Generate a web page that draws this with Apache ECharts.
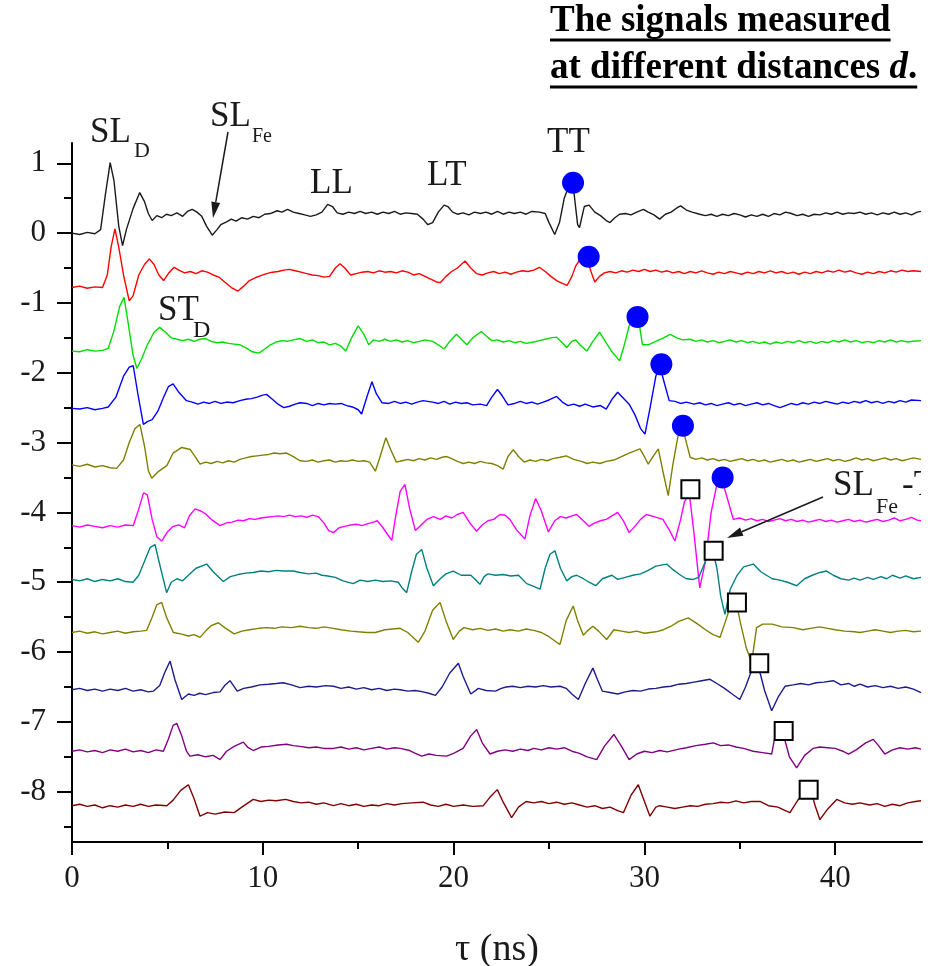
<!DOCTYPE html>
<html><head><meta charset="utf-8">
<script src="https://cdn.jsdelivr.net/npm/echarts@6.0.0/dist/echarts.min.js"></script>
<style>html,body{margin:0;padding:0;background:#fff}#c{width:934px;height:966px}</style>
</head><body><div id="c"></div>
<script>
// ---- data ----
const xTickValues = [0, 10, 20, 30, 40];
const yTickValues = [-8, -7, -6, -5, -4, -3, -2, -1, 0, 1];

const sig0 = [[0,0.00],[0.4,-0.02],[0.8,0.01],[1.2,-0.01],[1.5,0.05],[1.75,0.55],[2.0,1.01],[2.2,0.75],[2.45,0.1],[2.65,-0.18],[2.85,0.05],[3.2,0.35],[3.55,0.58],[3.8,0.45],[4.0,0.28],[4.2,0.18],[4.45,0.25],[4.7,0.22],[4.95,0.27],[5.2,0.25],[5.5,0.29],[5.8,0.24],[6.05,0.31],[6.3,0.34],[6.55,0.3],[6.8,0.24],[7.05,0.1],[7.35,-0.03],[7.6,0.05],[7.8,0.12],[8.1,0.16],[8.35,0.2],[8.6,0.17],[8.9,0.22],[9.2,0.2],[9.5,0.24],[9.8,0.22],[10.1,0.27],[10.4,0.28],[10.75,0.32],[11.0,0.3],[11.3,0.34],[11.6,0.3],[11.9,0.28],[12.2,0.26],[12.5,0.24],[12.8,0.26],[13.1,0.3],[13.4,0.41],[13.65,0.38],[13.9,0.29],[14.2,0.27],[14.5,0.3],[14.8,0.28],[15.1,0.31],[15.4,0.28],[15.7,0.3],[16.0,0.27],[16.3,0.3],[16.6,0.28],[16.9,0.31],[17.2,0.27],[17.5,0.29],[17.8,0.28],[18.1,0.27],[18.4,0.2],[18.65,0.12],[18.9,0.15],[19.2,0.3],[19.5,0.4],[19.7,0.38],[19.95,0.3],[20.2,0.27],[20.5,0.29],[20.8,0.26],[21.1,0.3],[21.4,0.28],[21.7,0.3],[22.0,0.27],[22.3,0.31],[22.6,0.27],[22.9,0.3],[23.2,0.28],[23.5,0.3],[23.8,0.27],[24.1,0.31],[24.5,0.3],[24.8,0.28],[25.0,0.15],[25.3,-0.02],[25.55,0.15],[25.8,0.5],[26.1,0.72],[26.3,0.6],[26.5,0.12],[26.6,0.08],[26.85,0.38],[27.1,0.4],[27.4,0.3],[27.7,0.25],[28.0,0.18],[28.2,0.15],[28.45,0.22],[28.7,0.27],[29.0,0.28],[29.3,0.26],[29.6,0.3],[29.95,0.34],[30.2,0.3],[30.5,0.26],[30.8,0.2],[31.1,0.27],[31.4,0.3],[31.7,0.36],[31.9,0.39],[32.2,0.33],[32.5,0.3],[32.9,0.27],[33.2,0.25],[33.5,0.27],[33.8,0.24],[34.1,0.27],[34.4,0.25],[34.7,0.28],[35.0,0.26],[35.3,0.23],[35.6,0.26],[35.9,0.24],[36.2,0.27],[36.5,0.24],[36.8,0.28],[37.1,0.26],[37.4,0.3],[37.7,0.28],[38.0,0.25],[38.3,0.27],[38.6,0.24],[38.9,0.27],[39.2,0.26],[39.5,0.29],[39.8,0.27],[40.1,0.3],[40.4,0.27],[40.7,0.29],[41.0,0.28],[41.3,0.3],[41.6,0.27],[41.9,0.29],[42.2,0.26],[42.5,0.29],[42.8,0.27],[43.1,0.3],[43.4,0.27],[43.7,0.29],[44.0,0.26],[44.3,0.3],[44.5,0.31]];

const sig1 = [[0,-0.78],[0.4,-0.76],[0.8,-0.79],[1.2,-0.77],[1.6,-0.78],[1.85,-0.6],[2.05,-0.2],[2.25,0.06],[2.45,-0.2],[2.7,-0.6],[3.0,-0.97],[3.2,-0.9],[3.5,-0.6],[3.8,-0.45],[4.05,-0.37],[4.3,-0.45],[4.55,-0.6],[4.8,-0.68],[5.05,-0.58],[5.35,-0.49],[5.6,-0.53],[5.9,-0.57],[6.2,-0.55],[6.5,-0.58],[6.8,-0.54],[7.1,-0.56],[7.4,-0.6],[7.7,-0.63],[8.0,-0.7],[8.35,-0.78],[8.7,-0.83],[9.0,-0.76],[9.3,-0.68],[9.6,-0.64],[9.9,-0.61],[10.2,-0.58],[10.5,-0.56],[10.8,-0.55],[11.1,-0.53],[11.4,-0.52],[11.7,-0.54],[12.0,-0.56],[12.3,-0.58],[12.6,-0.6],[12.9,-0.61],[13.2,-0.63],[13.5,-0.62],[13.8,-0.5],[14.05,-0.44],[14.3,-0.5],[14.6,-0.6],[14.9,-0.58],[15.2,-0.56],[15.5,-0.55],[15.8,-0.57],[16.1,-0.54],[16.4,-0.56],[16.7,-0.55],[17.0,-0.57],[17.3,-0.54],[17.6,-0.56],[17.9,-0.6],[18.2,-0.58],[18.5,-0.62],[18.8,-0.66],[19.1,-0.7],[19.3,-0.71],[19.6,-0.62],[19.9,-0.55],[20.2,-0.5],[20.6,-0.4],[20.9,-0.5],[21.2,-0.58],[21.5,-0.6],[21.8,-0.57],[22.1,-0.55],[22.4,-0.58],[22.7,-0.56],[23.0,-0.59],[23.3,-0.56],[23.6,-0.54],[23.9,-0.55],[24.2,-0.53],[24.5,-0.49],[24.8,-0.55],[25.1,-0.62],[25.4,-0.68],[25.7,-0.72],[25.95,-0.75],[26.2,-0.62],[26.4,-0.47],[26.7,-0.35],[26.95,-0.33],[27.2,-0.55],[27.4,-0.7],[27.65,-0.62],[27.9,-0.57],[28.2,-0.55],[28.5,-0.57],[28.8,-0.54],[29.1,-0.56],[29.4,-0.53],[29.7,-0.55],[30.0,-0.52],[30.3,-0.55],[30.6,-0.53],[30.9,-0.56],[31.2,-0.54],[31.5,-0.57],[31.8,-0.55],[32.1,-0.58],[32.4,-0.55],[32.7,-0.57],[33.0,-0.54],[33.3,-0.57],[33.6,-0.59],[33.9,-0.56],[34.2,-0.58],[34.5,-0.55],[34.8,-0.57],[35.1,-0.59],[35.4,-0.56],[35.7,-0.58],[36.0,-0.55],[36.3,-0.57],[36.6,-0.54],[36.9,-0.57],[37.2,-0.55],[37.5,-0.58],[37.8,-0.56],[38.1,-0.59],[38.4,-0.56],[38.7,-0.58],[39.0,-0.55],[39.3,-0.57],[39.6,-0.54],[39.9,-0.56],[40.2,-0.53],[40.5,-0.56],[40.8,-0.54],[41.1,-0.57],[41.4,-0.59],[41.7,-0.56],[42.0,-0.58],[42.3,-0.55],[42.6,-0.57],[42.9,-0.54],[43.2,-0.56],[43.5,-0.53],[43.8,-0.55],[44.1,-0.54],[44.5,-0.55]];

const sig2 = [[0,-1.69],[0.4,-1.7],[0.8,-1.67],[1.2,-1.69],[1.6,-1.68],[1.9,-1.65],[2.2,-1.4],[2.5,-1.05],[2.73,-0.92],[2.95,-1.3],[3.2,-1.75],[3.4,-1.94],[3.65,-1.8],[3.95,-1.6],[4.3,-1.42],[4.6,-1.35],[4.9,-1.42],[5.2,-1.5],[5.5,-1.52],[5.8,-1.54],[6.1,-1.52],[6.4,-1.55],[6.7,-1.52],[7.0,-1.51],[7.3,-1.55],[7.6,-1.57],[7.9,-1.56],[8.2,-1.58],[8.5,-1.59],[8.8,-1.6],[9.1,-1.64],[9.45,-1.7],[9.8,-1.72],[10.1,-1.66],[10.4,-1.6],[10.7,-1.56],[11.0,-1.54],[11.3,-1.55],[11.6,-1.53],[11.95,-1.51],[12.3,-1.55],[12.6,-1.53],[12.9,-1.57],[13.2,-1.56],[13.5,-1.6],[13.8,-1.58],[14.1,-1.62],[14.35,-1.69],[14.65,-1.5],[15.0,-1.33],[15.3,-1.45],[15.55,-1.6],[15.8,-1.53],[16.1,-1.55],[16.4,-1.52],[16.7,-1.55],[17.0,-1.53],[17.3,-1.56],[17.6,-1.54],[17.9,-1.57],[18.2,-1.55],[18.5,-1.53],[18.9,-1.55],[19.2,-1.6],[19.5,-1.66],[19.8,-1.55],[20.15,-1.45],[20.4,-1.52],[20.7,-1.6],[21.0,-1.5],[21.45,-1.41],[21.7,-1.47],[22.0,-1.54],[22.3,-1.53],[22.6,-1.56],[22.9,-1.54],[23.2,-1.57],[23.5,-1.55],[23.8,-1.58],[24.2,-1.56],[24.5,-1.54],[24.8,-1.52],[25.1,-1.5],[25.4,-1.49],[25.65,-1.56],[25.93,-1.64],[26.2,-1.55],[26.4,-1.53],[26.7,-1.62],[26.98,-1.69],[27.3,-1.55],[27.65,-1.42],[27.95,-1.55],[28.3,-1.7],[28.7,-1.83],[28.95,-1.6],[29.2,-1.33],[29.5,-1.2],[29.7,-1.25],[29.9,-1.6],[30.2,-1.6],[30.6,-1.55],[31.0,-1.5],[31.35,-1.45],[31.7,-1.5],[32.0,-1.53],[32.4,-1.52],[32.7,-1.55],[33.0,-1.53],[33.3,-1.56],[33.6,-1.54],[33.9,-1.57],[34.2,-1.55],[34.5,-1.53],[34.8,-1.56],[35.1,-1.54],[35.4,-1.57],[35.7,-1.55],[36.0,-1.58],[36.3,-1.56],[36.6,-1.59],[36.9,-1.56],[37.2,-1.58],[37.5,-1.55],[37.8,-1.57],[38.1,-1.54],[38.4,-1.57],[38.7,-1.55],[39.0,-1.58],[39.3,-1.55],[39.6,-1.57],[39.9,-1.54],[40.2,-1.56],[40.5,-1.53],[40.8,-1.56],[41.1,-1.54],[41.4,-1.57],[41.7,-1.55],[42.0,-1.57],[42.3,-1.54],[42.6,-1.56],[42.9,-1.53],[43.2,-1.56],[43.5,-1.54],[43.8,-1.56],[44.1,-1.55],[44.5,-1.54]];

const sig3 = [[0,-2.51],[0.4,-2.52],[0.8,-2.5],[1.2,-2.53],[1.6,-2.51],[1.9,-2.49],[2.3,-2.35],[2.7,-2.05],[3.0,-1.92],[3.21,-1.9],[3.45,-2.3],[3.74,-2.74],[3.95,-2.7],[4.2,-2.67],[4.5,-2.55],[4.8,-2.35],[5.05,-2.2],[5.3,-2.16],[5.6,-2.28],[6.0,-2.4],[6.3,-2.42],[6.6,-2.45],[6.9,-2.42],[7.2,-2.44],[7.5,-2.41],[7.8,-2.44],[8.1,-2.42],[8.45,-2.43],[8.8,-2.4],[9.1,-2.38],[9.4,-2.37],[9.7,-2.35],[10.0,-2.32],[10.2,-2.31],[10.5,-2.38],[10.8,-2.45],[11.1,-2.5],[11.4,-2.48],[11.7,-2.45],[11.95,-2.43],[12.3,-2.44],[12.6,-2.47],[12.9,-2.44],[13.2,-2.46],[13.5,-2.44],[13.8,-2.45],[14.1,-2.44],[14.4,-2.47],[14.7,-2.49],[15.0,-2.53],[15.18,-2.59],[15.45,-2.35],[15.72,-2.13],[15.95,-2.3],[16.25,-2.43],[16.6,-2.44],[16.9,-2.41],[17.2,-2.44],[17.5,-2.42],[17.8,-2.45],[18.1,-2.42],[18.4,-2.4],[18.9,-2.42],[19.2,-2.44],[19.5,-2.41],[19.8,-2.45],[20.1,-2.42],[20.4,-2.44],[20.7,-2.43],[21.0,-2.46],[21.4,-2.45],[21.73,-2.47],[22.0,-2.35],[22.3,-2.24],[22.55,-2.33],[22.85,-2.46],[23.2,-2.44],[23.5,-2.41],[23.8,-2.44],[24.1,-2.42],[24.4,-2.45],[24.7,-2.42],[25.0,-2.39],[25.4,-2.34],[25.7,-2.42],[26.0,-2.47],[26.3,-2.45],[26.6,-2.48],[26.9,-2.45],[27.3,-2.49],[27.7,-2.47],[28.0,-2.52],[28.3,-2.38],[28.6,-2.28],[28.85,-2.35],[29.2,-2.45],[29.5,-2.6],[29.8,-2.8],[30.03,-2.88],[30.3,-2.5],[30.6,-2.05],[30.8,-1.9],[31.0,-2.1],[31.3,-2.4],[31.6,-2.41],[31.9,-2.44],[32.2,-2.42],[32.6,-2.45],[32.9,-2.43],[33.2,-2.46],[33.5,-2.44],[33.8,-2.47],[34.1,-2.45],[34.4,-2.43],[34.7,-2.46],[35.0,-2.44],[35.3,-2.47],[35.6,-2.45],[35.9,-2.43],[36.2,-2.46],[36.5,-2.44],[36.8,-2.47],[37.1,-2.5],[37.4,-2.47],[37.7,-2.44],[38.0,-2.46],[38.3,-2.43],[38.6,-2.45],[38.9,-2.42],[39.2,-2.44],[39.5,-2.41],[39.8,-2.43],[40.1,-2.45],[40.4,-2.42],[40.7,-2.44],[41.0,-2.41],[41.3,-2.43],[41.6,-2.4],[41.9,-2.43],[42.2,-2.41],[42.5,-2.44],[42.8,-2.41],[43.1,-2.43],[43.4,-2.4],[43.7,-2.42],[44.0,-2.39],[44.5,-2.4]];

const sig4 = [[0,-3.32],[0.4,-3.34],[0.8,-3.31],[1.2,-3.35],[1.6,-3.33],[2.0,-3.36],[2.34,-3.37],[2.7,-3.25],[3.0,-3.0],[3.3,-2.8],[3.56,-2.74],[3.8,-3.05],[4.0,-3.4],[4.18,-3.51],[4.5,-3.42],[4.97,-3.33],[5.3,-3.15],[5.75,-3.07],[6.2,-3.1],[6.5,-3.22],[6.71,-3.31],[7.0,-3.28],[7.3,-3.3],[7.6,-3.27],[7.9,-3.29],[8.2,-3.26],[8.5,-3.28],[8.8,-3.24],[9.1,-3.22],[9.4,-3.2],[9.7,-3.19],[10.0,-3.18],[10.3,-3.17],[10.6,-3.15],[10.9,-3.16],[11.25,-3.15],[11.6,-3.2],[11.95,-3.26],[12.3,-3.27],[12.6,-3.25],[12.9,-3.28],[13.2,-3.26],[13.5,-3.25],[13.8,-3.28],[14.1,-3.26],[14.4,-3.27],[14.7,-3.25],[15.0,-3.27],[15.3,-3.26],[15.6,-3.28],[15.9,-3.41],[16.15,-3.2],[16.45,-2.93],[16.7,-3.1],[17.0,-3.28],[17.3,-3.26],[17.6,-3.24],[17.9,-3.26],[18.2,-3.23],[18.5,-3.25],[18.8,-3.22],[19.1,-3.24],[19.4,-3.21],[19.65,-3.2],[19.9,-3.23],[20.2,-3.27],[20.5,-3.3],[20.8,-3.28],[21.1,-3.3],[21.4,-3.27],[21.7,-3.29],[22.0,-3.3],[22.3,-3.33],[22.6,-3.38],[22.85,-3.2],[23.13,-3.1],[23.4,-3.2],[23.7,-3.28],[24.0,-3.25],[24.3,-3.27],[24.6,-3.24],[24.9,-3.26],[25.2,-3.23],[25.58,-3.21],[25.9,-3.19],[26.3,-3.24],[26.7,-3.27],[27.0,-3.3],[27.3,-3.28],[27.67,-3.3],[28.0,-3.27],[28.4,-3.25],[28.8,-3.2],[29.2,-3.15],[29.5,-3.12],[29.77,-3.09],[30.0,-3.2],[30.2,-3.31],[30.45,-3.2],[30.73,-3.09],[31.0,-3.45],[31.25,-3.76],[31.5,-3.3],[31.8,-2.85],[32.0,-2.78],[32.2,-3.0],[32.4,-3.21],[32.7,-3.24],[33.0,-3.22],[33.3,-3.25],[33.6,-3.23],[33.9,-3.26],[34.2,-3.24],[34.5,-3.27],[34.8,-3.25],[35.1,-3.23],[35.4,-3.26],[35.7,-3.24],[36.0,-3.27],[36.3,-3.25],[36.6,-3.28],[36.9,-3.26],[37.2,-3.24],[37.5,-3.27],[37.8,-3.25],[38.1,-3.28],[38.4,-3.26],[38.7,-3.24],[39.0,-3.27],[39.3,-3.25],[39.6,-3.23],[39.9,-3.26],[40.2,-3.24],[40.5,-3.27],[40.8,-3.25],[41.1,-3.22],[41.4,-3.25],[41.7,-3.23],[42.0,-3.26],[42.3,-3.24],[42.6,-3.22],[42.9,-3.25],[43.2,-3.23],[43.5,-3.26],[43.8,-3.24],[44.1,-3.22],[44.5,-3.24]];

const sig5 = [[0,-4.19],[0.4,-4.21],[0.8,-4.18],[1.2,-4.2],[1.6,-4.22],[2.0,-4.19],[2.4,-4.21],[2.8,-4.18],[3.21,-4.19],[3.5,-3.95],[3.75,-3.72],[3.95,-3.75],[4.2,-4.1],[4.45,-4.35],[4.7,-4.41],[5.0,-4.28],[5.3,-4.2],[5.6,-4.18],[5.9,-4.22],[6.15,-4.05],[6.45,-3.95],[6.75,-3.98],[7.0,-4.02],[7.3,-4.1],[7.76,-4.19],[8.1,-4.15],[8.4,-4.14],[8.7,-4.11],[9.0,-4.12],[9.3,-4.09],[9.6,-4.1],[9.9,-4.08],[10.2,-4.07],[10.5,-4.06],[10.8,-4.05],[11.1,-4.06],[11.4,-4.04],[11.7,-4.06],[12.0,-4.05],[12.3,-4.07],[12.6,-4.04],[12.9,-4.06],[13.2,-4.15],[13.45,-4.26],[13.7,-4.29],[14.0,-4.22],[14.3,-4.2],[14.6,-4.18],[14.9,-4.17],[15.2,-4.19],[15.5,-4.16],[15.8,-4.14],[16.0,-4.12],[16.3,-4.22],[16.55,-4.32],[16.76,-4.4],[17.0,-4.0],[17.2,-3.7],[17.45,-3.6],[17.7,-3.95],[18.0,-4.26],[18.3,-4.18],[18.6,-4.1],[18.94,-4.06],[19.3,-4.1],[19.6,-4.05],[19.9,-4.08],[20.2,-4.03],[20.5,-4.0],[20.85,-4.15],[21.2,-4.27],[21.5,-4.18],[21.8,-4.12],[22.1,-4.1],[22.43,-4.03],[22.7,-4.04],[22.95,-4.1],[23.3,-4.25],[23.74,-4.38],[24.0,-4.05],[24.3,-3.8],[24.6,-3.98],[24.97,-4.28],[25.3,-4.12],[25.6,-4.06],[25.9,-4.08],[26.2,-4.05],[26.45,-4.03],[26.8,-4.12],[27.1,-4.2],[27.4,-4.15],[27.7,-4.12],[28.0,-4.1],[28.3,-4.05],[28.6,-4.0],[28.9,-4.12],[29.2,-4.29],[29.5,-4.2],[29.8,-4.1],[30.1,-4.03],[30.5,-4.06],[30.97,-4.1],[31.3,-4.25],[31.6,-4.41],[31.9,-4.1],[32.1,-3.85],[32.35,-3.72],[32.6,-4.3],[32.9,-5.08],[33.2,-4.7],[33.5,-4.0],[33.8,-3.6],[34.05,-3.52],[34.35,-3.8],[34.66,-4.1],[35.0,-4.08],[35.3,-4.11],[35.6,-4.09],[35.9,-4.12],[36.2,-4.1],[36.5,-4.13],[36.8,-4.11],[37.1,-4.09],[37.4,-4.12],[37.7,-4.1],[38.0,-4.13],[38.3,-4.11],[38.6,-4.14],[38.9,-4.12],[39.2,-4.1],[39.5,-4.13],[39.8,-4.11],[40.1,-4.14],[40.4,-4.12],[40.7,-4.1],[41.0,-4.13],[41.3,-4.11],[41.6,-4.14],[41.9,-4.12],[42.2,-4.1],[42.5,-4.13],[42.8,-4.11],[43.1,-4.08],[43.4,-4.12],[43.7,-4.1],[44.0,-4.07],[44.3,-4.11],[44.5,-4.12]];

const sig6 = [[0,-4.96],[0.4,-4.98],[0.8,-4.95],[1.2,-4.99],[1.6,-4.96],[2.0,-4.98],[2.4,-4.95],[2.8,-4.99],[3.2,-5.0],[3.5,-4.9],[3.8,-4.7],[4.1,-4.5],[4.35,-4.46],[4.6,-4.75],[4.96,-5.15],[5.2,-5.0],[5.5,-4.95],[5.8,-4.98],[6.1,-4.9],[6.5,-4.8],[7.06,-4.74],[7.4,-4.85],[7.93,-4.99],[8.3,-4.92],[8.7,-4.89],[9.1,-4.87],[9.5,-4.86],[9.9,-4.84],[10.3,-4.85],[10.7,-4.83],[11.1,-4.84],[11.6,-4.84],[11.95,-4.86],[12.4,-4.88],[12.8,-4.87],[13.1,-4.9],[13.4,-4.91],[13.8,-4.93],[14.2,-4.98],[14.74,-5.02],[15.1,-4.97],[15.5,-4.99],[15.9,-4.97],[16.3,-4.99],[16.7,-4.98],[17.1,-5.0],[17.3,-5.08],[17.54,-5.15],[17.8,-4.85],[18.05,-4.6],[18.33,-4.53],[18.6,-4.8],[18.94,-5.05],[19.3,-4.95],[19.6,-4.88],[19.98,-4.84],[20.4,-4.9],[20.9,-4.9],[21.1,-4.95],[21.38,-5.03],[21.6,-4.92],[21.8,-4.88],[22.2,-4.9],[22.6,-4.89],[23.0,-4.91],[23.4,-4.9],[23.83,-5.02],[24.2,-5.06],[24.53,-5.1],[24.8,-4.8],[25.05,-4.6],[25.31,-4.55],[25.6,-4.8],[25.93,-4.98],[26.2,-4.92],[26.45,-4.9],[26.8,-4.95],[27.1,-5.0],[27.45,-5.05],[27.8,-4.95],[28.3,-4.9],[28.6,-4.96],[29.0,-4.93],[29.4,-4.9],[29.8,-4.88],[30.2,-4.83],[30.6,-4.77],[31.17,-4.74],[31.5,-4.82],[31.9,-4.9],[32.2,-4.95],[32.56,-4.96],[32.85,-4.93],[33.2,-4.7],[33.55,-4.5],[33.8,-4.8],[34.0,-5.2],[34.22,-5.46],[34.5,-5.1],[34.84,-4.91],[35.2,-4.78],[35.71,-4.74],[36.1,-4.85],[36.7,-4.95],[37.1,-4.97],[37.5,-5.0],[37.98,-5.05],[38.4,-4.95],[38.8,-4.9],[39.2,-4.86],[39.55,-4.84],[39.9,-4.9],[40.3,-4.95],[40.7,-4.97],[41.0,-4.94],[41.3,-4.97],[41.7,-4.93],[42.0,-4.96],[42.4,-4.92],[42.7,-4.95],[43.0,-4.9],[43.4,-4.94],[43.7,-4.91],[44.1,-4.95],[44.5,-4.93]];

const sig7 = [[0,-5.72],[0.4,-5.7],[0.8,-5.73],[1.2,-5.71],[1.6,-5.74],[2.0,-5.72],[2.4,-5.7],[2.8,-5.73],[3.2,-5.71],[3.6,-5.7],[3.91,-5.69],[4.2,-5.5],[4.45,-5.32],[4.7,-5.29],[4.95,-5.5],[5.31,-5.72],[5.7,-5.74],[6.1,-5.77],[6.4,-5.75],[6.71,-5.79],[7.0,-5.7],[7.3,-5.62],[7.67,-5.58],[8.0,-5.65],[8.5,-5.74],[8.9,-5.7],[9.3,-5.68],[9.8,-5.66],[10.2,-5.65],[10.6,-5.66],[11.0,-5.64],[11.5,-5.65],[11.95,-5.63],[12.4,-5.65],[12.8,-5.66],[13.2,-5.64],[13.7,-5.66],[14.1,-5.68],[14.6,-5.7],[15.0,-5.71],[15.45,-5.72],[15.9,-5.72],[16.4,-5.68],[16.8,-5.67],[17.2,-5.66],[17.6,-5.72],[18.15,-5.86],[18.5,-5.7],[18.9,-5.4],[19.29,-5.29],[19.6,-5.55],[19.98,-5.82],[20.3,-5.7],[20.55,-5.65],[21.0,-5.68],[21.4,-5.66],[21.8,-5.69],[22.2,-5.67],[22.6,-5.7],[22.96,-5.68],[23.4,-5.7],[23.8,-5.67],[24.2,-5.69],[24.6,-5.72],[25.0,-5.78],[25.4,-5.86],[25.58,-5.89],[25.9,-5.55],[26.27,-5.34],[26.5,-5.55],[26.8,-5.76],[27.0,-5.7],[27.3,-5.63],[27.6,-5.7],[28.02,-5.82],[28.4,-5.68],[28.8,-5.7],[29.2,-5.72],[29.6,-5.7],[30.0,-5.73],[30.6,-5.71],[31.0,-5.68],[31.4,-5.63],[31.8,-5.56],[32.3,-5.51],[32.8,-5.6],[33.2,-5.68],[33.6,-5.75],[33.96,-5.79],[34.2,-5.6],[34.5,-5.35],[34.78,-5.25],[35.05,-5.6],[35.35,-5.95],[35.62,-6.15],[35.88,-5.65],[36.2,-5.6],[36.7,-5.6],[37.2,-5.64],[37.8,-5.65],[38.3,-5.68],[38.7,-5.66],[39.2,-5.64],[39.6,-5.66],[40.0,-5.68],[40.5,-5.7],[41.0,-5.71],[41.3,-5.72],[41.7,-5.7],[42.1,-5.68],[42.5,-5.7],[42.9,-5.72],[43.3,-5.7],[43.7,-5.69],[44.1,-5.71],[44.5,-5.7]];

const sig8 = [[0,-6.54],[0.4,-6.52],[0.8,-6.55],[1.2,-6.53],[1.6,-6.56],[2.0,-6.53],[2.4,-6.55],[2.8,-6.52],[3.2,-6.56],[3.6,-6.54],[4.0,-6.57],[4.26,-6.56],[4.6,-6.48],[4.85,-6.3],[5.14,-6.13],[5.4,-6.4],[5.75,-6.68],[6.1,-6.6],[6.4,-6.62],[6.7,-6.59],[7.0,-6.61],[7.4,-6.58],[7.76,-6.57],[8.0,-6.48],[8.28,-6.41],[8.66,-6.56],[9.0,-6.52],[9.4,-6.5],[9.85,-6.47],[10.3,-6.46],[10.7,-6.45],[11.07,-6.44],[11.5,-6.47],[11.95,-6.51],[12.4,-6.49],[12.8,-6.5],[13.3,-6.48],[13.7,-6.49],[14.1,-6.52],[14.5,-6.5],[14.9,-6.53],[15.3,-6.51],[15.7,-6.54],[16.1,-6.52],[16.5,-6.55],[16.9,-6.53],[17.2,-6.54],[17.6,-6.56],[18.0,-6.55],[18.4,-6.57],[18.7,-6.59],[19.05,-6.62],[19.4,-6.5],[19.8,-6.3],[20.25,-6.16],[20.5,-6.35],[20.9,-6.6],[21.3,-6.52],[21.7,-6.55],[22.2,-6.56],[22.5,-6.52],[22.75,-6.5],[23.1,-6.49],[23.5,-6.51],[23.9,-6.49],[24.3,-6.5],[24.7,-6.48],[25.1,-6.5],[25.58,-6.49],[25.9,-6.52],[26.2,-6.6],[26.54,-6.68],[26.9,-6.45],[27.3,-6.23],[27.55,-6.4],[27.8,-6.56],[28.2,-6.58],[28.6,-6.6],[29.0,-6.57],[29.4,-6.55],[29.8,-6.56],[30.2,-6.53],[30.6,-6.52],[31.0,-6.5],[31.4,-6.49],[31.8,-6.46],[32.2,-6.45],[32.6,-6.43],[33.0,-6.41],[33.44,-6.39],[33.8,-6.45],[34.2,-6.52],[34.6,-6.6],[35.0,-6.68],[35.3,-6.5],[35.6,-6.28],[35.97,-6.2],[36.3,-6.55],[36.67,-6.84],[37.0,-6.65],[37.37,-6.49],[37.8,-6.47],[38.2,-6.45],[38.6,-6.47],[39.0,-6.44],[39.4,-6.43],[39.9,-6.41],[40.3,-6.47],[40.7,-6.45],[41.0,-6.49],[41.3,-6.46],[41.7,-6.5],[42.1,-6.48],[42.5,-6.51],[42.9,-6.49],[43.3,-6.52],[43.7,-6.5],[44.1,-6.53],[44.5,-6.58]];

const sig9 = [[0,-7.42],[0.4,-7.4],[0.8,-7.43],[1.2,-7.41],[1.6,-7.44],[2.0,-7.4],[2.4,-7.42],[2.8,-7.39],[3.2,-7.43],[3.6,-7.41],[4.0,-7.44],[4.4,-7.4],[4.79,-7.42],[5.05,-7.25],[5.3,-7.05],[5.49,-7.02],[5.75,-7.2],[6.0,-7.42],[6.18,-7.49],[6.6,-7.47],[7.0,-7.5],[7.4,-7.48],[7.76,-7.54],[8.1,-7.42],[8.5,-7.35],[8.98,-7.29],[9.2,-7.36],[9.5,-7.41],[9.9,-7.36],[10.3,-7.35],[10.8,-7.33],[11.25,-7.32],[11.6,-7.34],[11.95,-7.35],[12.4,-7.37],[12.8,-7.36],[13.2,-7.38],[13.7,-7.38],[14.1,-7.36],[14.5,-7.39],[14.9,-7.37],[15.3,-7.4],[15.7,-7.38],[16.1,-7.36],[16.5,-7.39],[16.9,-7.37],[17.2,-7.38],[17.7,-7.41],[18.0,-7.45],[18.33,-7.49],[18.7,-7.46],[19.1,-7.48],[19.64,-7.49],[20.0,-7.45],[20.5,-7.38],[20.9,-7.2],[21.21,-7.11],[21.5,-7.3],[21.91,-7.46],[22.3,-7.42],[22.7,-7.4],[23.1,-7.42],[23.5,-7.39],[23.9,-7.41],[24.2,-7.38],[24.6,-7.4],[25.0,-7.37],[25.4,-7.39],[25.8,-7.37],[26.2,-7.42],[26.6,-7.45],[27.0,-7.5],[27.5,-7.54],[27.9,-7.35],[28.4,-7.18],[28.8,-7.35],[29.2,-7.54],[29.6,-7.46],[30.0,-7.42],[30.4,-7.44],[30.8,-7.41],[31.2,-7.43],[31.8,-7.39],[32.2,-7.37],[32.7,-7.34],[33.2,-7.32],[33.61,-7.3],[34.0,-7.34],[34.4,-7.33],[34.8,-7.36],[35.2,-7.38],[35.7,-7.42],[36.2,-7.44],[36.67,-7.46],[36.85,-7.2],[37.05,-7.06],[37.3,-7.2],[37.6,-7.5],[37.98,-7.66],[38.4,-7.48],[38.84,-7.38],[39.2,-7.36],[39.6,-7.37],[40.0,-7.38],[40.4,-7.42],[40.7,-7.46],[41.1,-7.4],[41.6,-7.3],[42.0,-7.25],[42.3,-7.35],[42.6,-7.46],[43.0,-7.4],[43.4,-7.37],[43.8,-7.39],[44.2,-7.37],[44.5,-7.39]];

const sig10 = [[0,-8.2],[0.4,-8.18],[0.8,-8.21],[1.2,-8.19],[1.6,-8.23],[2.0,-8.2],[2.4,-8.22],[2.8,-8.19],[3.2,-8.21],[3.6,-8.18],[4.0,-8.21],[4.4,-8.19],[4.97,-8.2],[5.3,-8.12],[5.7,-7.98],[6.1,-7.9],[6.4,-8.1],[6.71,-8.35],[7.1,-8.3],[7.5,-8.32],[8.0,-8.29],[8.5,-8.3],[8.9,-8.22],[9.5,-8.11],[9.9,-8.14],[10.3,-8.12],[10.7,-8.13],[11.2,-8.11],[11.6,-8.14],[12.0,-8.16],[12.4,-8.15],[12.8,-8.18],[13.2,-8.16],[13.7,-8.2],[14.1,-8.17],[14.5,-8.2],[14.9,-8.18],[15.3,-8.21],[15.7,-8.19],[16.1,-8.2],[16.5,-8.17],[16.9,-8.19],[17.3,-8.17],[17.8,-8.16],[18.4,-8.15],[18.8,-8.19],[19.2,-8.21],[19.6,-8.18],[20.0,-8.21],[20.5,-8.19],[21.0,-8.21],[21.56,-8.2],[21.9,-8.08],[22.29,-7.97],[22.6,-8.15],[23.04,-8.37],[23.4,-8.22],[23.8,-8.14],[24.2,-8.16],[24.6,-8.14],[25.0,-8.17],[25.4,-8.15],[25.8,-8.18],[26.2,-8.16],[26.6,-8.19],[27.0,-8.22],[27.4,-8.2],[27.8,-8.24],[28.2,-8.22],[28.6,-8.27],[28.9,-8.3],[29.3,-8.05],[29.68,-7.9],[29.95,-8.1],[30.29,-8.35],[30.6,-8.22],[30.8,-8.2],[31.2,-8.22],[31.6,-8.24],[32.0,-8.22],[32.4,-8.2],[32.8,-8.21],[33.2,-8.18],[33.6,-8.17],[34.0,-8.15],[34.4,-8.16],[34.8,-8.13],[35.2,-8.16],[35.6,-8.14],[36.06,-8.14],[36.5,-8.2],[37.0,-8.22],[37.3,-8.26],[37.63,-8.3],[38.07,-8.11],[38.4,-7.98],[38.7,-7.96],[38.95,-8.2],[39.2,-8.4],[39.6,-8.25],[40.08,-8.11],[40.5,-8.16],[40.9,-8.18],[41.3,-8.16],[41.8,-8.19],[42.2,-8.17],[42.6,-8.21],[43.0,-8.18],[43.4,-8.2],[43.8,-8.16],[44.2,-8.14],[44.5,-8.13]];

// TT arrivals (blue circles) and SL_Fe-T arrivals (open squares)
const ttMarks = [[26.26,0.72],[27.08,-0.34],[29.64,-1.2],[30.89,-1.88],[32.02,-2.76],[34.1,-3.5]];
const slfeMarks = [[32.41,-3.67],[33.63,-4.55],[34.85,-5.29],[36.02,-6.16],[37.3,-7.13],[38.61,-7.97]];

const signals = [sig0, sig1, sig2, sig3, sig4, sig5, sig6, sig7, sig8, sig9, sig10];
const traceColors = ['#1a1a1a','#ff0000','#00dd00','#0000ff','#808000','#ff00ff','#008080','#808000','#1c1c8a','#800080','#800000'];

// ---- chart ----
const chart = echarts.init(document.getElementById('c'), null, {renderer: 'canvas'});
const SERIF = '"Liberation Serif", "Times New Roman", serif';
const INK = '#1a1a1a';
const BASE_K = 0.27;

function txt(x, base, s, size, extra) {
  return {
    type: 'text', x: x, y: base - BASE_K * size, z: 20,
    style: Object.assign({
      text: s, font: size + 'px ' + SERIF, fill: INK,
      textAlign: 'left', textVerticalAlign: 'middle', align: 'left', verticalAlign: 'middle'
    }, extra || {})
  };
}
function arrow(x1, y1, x2, y2) {
  const dx = x2 - x1, dy = y2 - y1, L = Math.sqrt(dx * dx + dy * dy);
  const ux = dx / L, uy = dy / L, hl = 16, hw = 4.5;
  const bx = x2 - hl * ux, by = y2 - hl * uy;
  return [
    {type: 'line', z: 20, shape: {x1: x1, y1: y1, x2: bx, y2: by}, style: {stroke: INK, lineWidth: 1.5}},
    {type: 'polygon', z: 20, shape: {points: [[x2, y2], [bx - hw * uy, by + hw * ux], [bx + hw * uy, by - hw * ux]]}, style: {fill: INK}}
  ];
}

const mctx = document.createElement('canvas').getContext('2d');
function measure(font, s) { mctx.font = font; return mctx.measureText(s).width; }
const titleSize = 37;
const fB = 'bold ' + titleSize + 'px ' + SERIF;
const fBI = 'italic bold ' + titleSize + 'px ' + SERIF;
const t1 = 'The signals measured';
const t2a = 'at different distances ';
const w1 = measure(fB, t1);
const w2a = measure(fB, t2a);
const w2b = measure(fBI, 'd');
const w2c = measure(fB, '.');
const tx = 550;

const graphics = [
  txt(tx, 31, t1, titleSize, {font: fB, fill: '#000'}),
  {type: 'rect', z: 20, shape: {x: tx, y: 38.5, width: w1, height: 3}, style: {fill: '#000'}},
  txt(tx, 78, t2a, titleSize, {font: fB, fill: '#000'}),
  txt(tx + w2a, 78, 'd', titleSize, {font: fBI, fill: '#000'}),
  txt(tx + w2a + w2b, 78, '.', titleSize, {font: fB, fill: '#000'}),
  {type: 'rect', z: 20, shape: {x: tx, y: 85.5, width: w2a + w2b + w2c, height: 3}, style: {fill: '#000'}},
  // peak labels
  txt(90, 142, 'SL', 35), txt(134, 157, 'D', 22),
  txt(210, 126, 'SL', 35), txt(252, 142, 'Fe', 20),
  txt(310, 193, 'LL', 35),
  txt(427, 185, 'LT', 35),
  txt(547, 152, 'TT', 35),
  txt(158, 320, 'ST', 35), txt(193, 337, 'D', 24),
  txt(833, 495, 'SL', 35), txt(876, 513, 'Fe', 22), txt(902, 495, '-T', 35),
  {type: 'rect', z: 21, shape: {x: 921, y: 466, width: 13, height: 34}, style: {fill: '#fff'}}
].concat(arrow(228, 132, 213, 218)).concat(arrow(823, 497, 727, 538));

const lineSeries = signals.map((d, i) => ({
  type: 'line', data: d, symbol: 'none', showSymbol: false, z: 2,
  lineStyle: {color: traceColors[i], width: 1.4}, itemStyle: {color: traceColors[i]},
  silent: true, animation: false
}));

const axisLineStyle = {color: '#000', width: 2};

chart.setOption({
  backgroundColor: '#fff',
  animation: false,
  grid: {left: 72, right: 12, top: 143, bottom: 124, containLabel: false, outerBoundsMode: 'none'},
  xAxis: {
    type: 'value', min: 0, max: 44.55, interval: 10,
    name: 'τ (ns)', nameLocation: 'middle', nameGap: 89,
    nameTextStyle: {fontFamily: SERIF, fontSize: 38, color: INK},
    axisLine: {show: true, onZero: false, lineStyle: axisLineStyle},
    axisTick: {show: true, inside: false, length: 13, lineStyle: axisLineStyle, customValues: xTickValues},
    minorTick: {show: true, splitNumber: 2, length: 7, lineStyle: axisLineStyle},
    axisLabel: {customValues: xTickValues, margin: 21, fontFamily: SERIF, fontSize: 31, color: INK, formatter: v => String(v)},
    splitLine: {show: false}, minorSplitLine: {show: false}
  },
  yAxis: {
    type: 'value', min: -8.72, max: 1.29, splitNumber: 10,
    axisLine: {show: true, onZero: false, lineStyle: axisLineStyle},
    axisTick: {show: true, inside: false, length: 15, lineStyle: axisLineStyle, customValues: yTickValues},
    minorTick: {show: true, splitNumber: 2, length: 8, lineStyle: axisLineStyle},
    axisLabel: {customValues: yTickValues, margin: 26, fontFamily: SERIF, fontSize: 31, color: INK, formatter: v => String(v)},
    splitLine: {show: false}, minorSplitLine: {show: false}
  },
  series: lineSeries.concat([
    {type: 'scatter', data: ttMarks, symbol: 'circle', symbolSize: 22, z: 5,
     itemStyle: {color: '#0000ff', opacity: 1}, silent: true},
    {type: 'scatter', data: slfeMarks, symbol: 'rect', symbolSize: 18, z: 5,
     itemStyle: {color: '#fff', borderColor: '#000', borderWidth: 2, opacity: 1}, silent: true}
  ]),
  graphic: {elements: graphics}
});
</script>
</body></html>
